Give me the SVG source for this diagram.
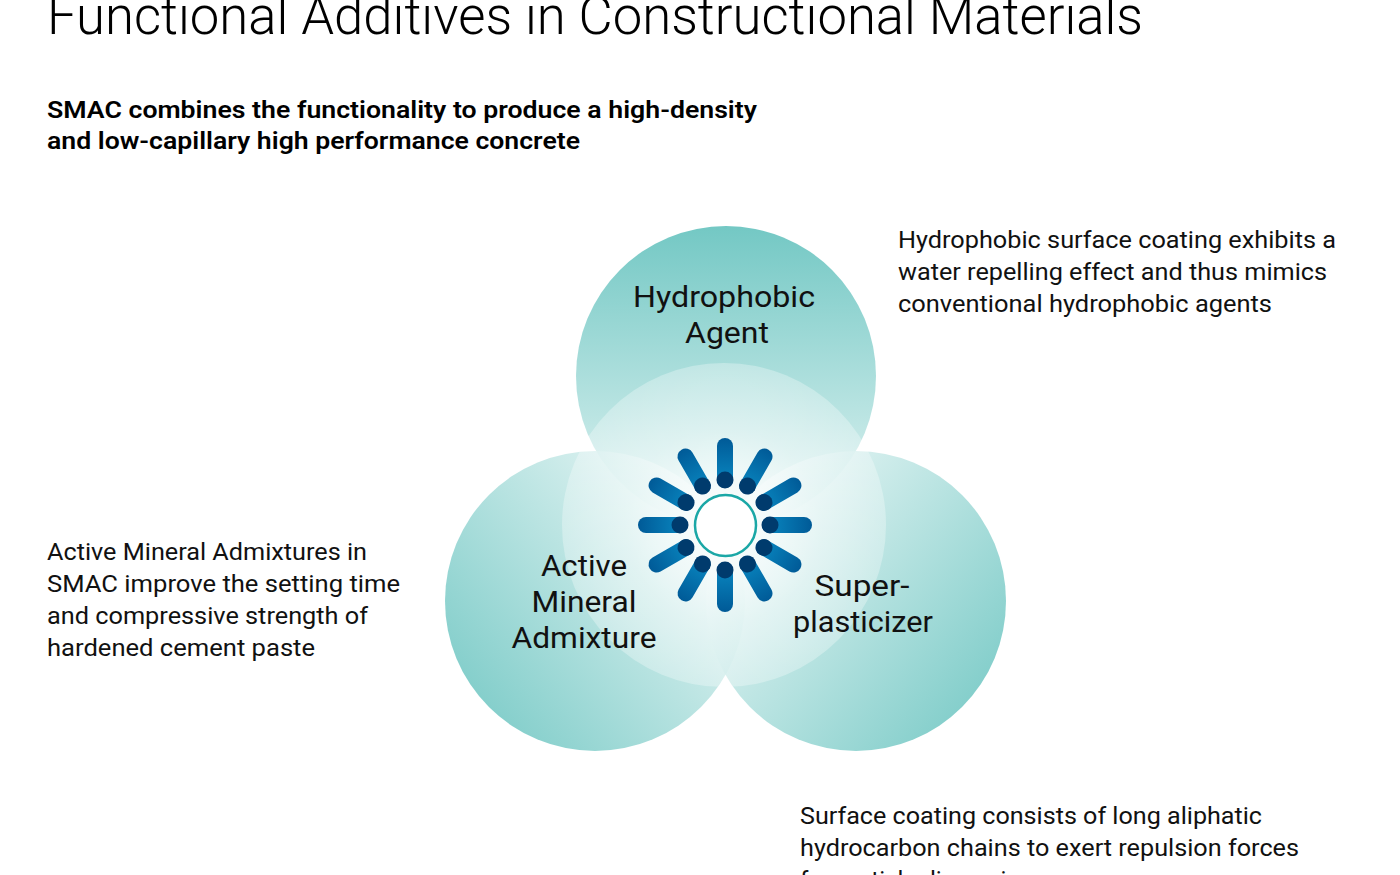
<svg xmlns="http://www.w3.org/2000/svg" xmlns:xlink="http://www.w3.org/1999/xlink" width="1400" height="875" viewBox="0 0 1400 875">
  <style>
    .title { font-family: Roboto, "Liberation Sans", sans-serif; font-weight: 300; font-size: 53px; fill: #000; }
    .sub { font-family: Roboto, "Liberation Sans", sans-serif; font-weight: 600; font-size: 24px; fill: #000; }
    .body { font-family: Roboto, "Liberation Sans", sans-serif; font-weight: 400; font-size: 24px; fill: #111; }
    .label { font-family: Roboto, "Liberation Sans", sans-serif; font-weight: 400; font-size: 30px; fill: #111; text-anchor: middle; }
  </style>
  <defs>
    <linearGradient id="gTop" x1="0" y1="0" x2="0" y2="1">
      <stop offset="0" stop-color="#6CC5C1"/>
      <stop offset="1" stop-color="#E2F4F3"/>
    </linearGradient>
    <linearGradient id="gLeft" x1="0.1" y1="0.85" x2="0.9" y2="0.2">
      <stop offset="0" stop-color="#6CC5C1"/>
      <stop offset="1" stop-color="#E5F5F4"/>
    </linearGradient>
    <linearGradient id="gRight" x1="0.9" y1="0.85" x2="0.1" y2="0.2">
      <stop offset="0" stop-color="#6CC5C1"/>
      <stop offset="1" stop-color="#E5F5F4"/>
    </linearGradient>
    <radialGradient id="gCenter" cx="0.5" cy="0.5" r="0.5">
      <stop offset="0" stop-color="#FFFFFF" stop-opacity="0.9"/>
      <stop offset="0.6" stop-color="#FFFFFF" stop-opacity="0.45"/>
      <stop offset="1" stop-color="#FFFFFF" stop-opacity="0.3"/>
    </radialGradient>
    <linearGradient id="gSpoke" x1="0" y1="0" x2="0" y2="1">
      <stop offset="0" stop-color="#005A97"/>
      <stop offset="1" stop-color="#0A8BC4"/>
    </linearGradient>
    <g id="spoke">
      <rect x="-8" y="-87" width="16" height="50" rx="8" fill="url(#gSpoke)"/>
      <circle cx="0" cy="-45" r="8.5" fill="#003B6D"/>
    </g>
  </defs>

  <rect width="1400" height="875" fill="#FFFFFF"/>

  <g id="title">
    <text class="title" x="47" y="34" textLength="1096" lengthAdjust="spacingAndGlyphs">Functional Additives in Constructional Materials</text>
  </g>
  <g id="subtitle">
    <text class="sub" x="47" y="118" textLength="710" lengthAdjust="spacingAndGlyphs">SMAC combines the functionality to produce a high-density</text>
    <text class="sub" x="47" y="149" textLength="533" lengthAdjust="spacingAndGlyphs">and low-capillary high performance concrete</text>
  </g>

  <g id="node-hydrophobic">
    <circle cx="726" cy="376" r="150" fill="url(#gTop)" opacity="0.95"/>
  </g>
  <g id="node-mineral">
    <circle cx="595" cy="601" r="150" fill="url(#gLeft)" opacity="0.85"/>
  </g>
  <g id="node-superplasticizer">
    <circle cx="856" cy="601" r="150" fill="url(#gRight)" opacity="0.85"/>
  </g>
  <g id="node-center-overlay">
    <circle cx="724" cy="525" r="162" fill="url(#gCenter)"/>
  </g>

  <g id="labels">
    <text class="label" x="724" y="307" textLength="182" lengthAdjust="spacingAndGlyphs">Hydrophobic</text>
    <text class="label" x="727" y="343" textLength="84" lengthAdjust="spacingAndGlyphs">Agent</text>
    <text class="label" x="584" y="576" textLength="86" lengthAdjust="spacingAndGlyphs">Active</text>
    <text class="label" x="584" y="612" textLength="105" lengthAdjust="spacingAndGlyphs">Mineral</text>
    <text class="label" x="584" y="648" textLength="145" lengthAdjust="spacingAndGlyphs">Admixture</text>
    <text class="label" x="862" y="596" textLength="95" lengthAdjust="spacingAndGlyphs">Super-</text>
    <text class="label" x="863" y="632" textLength="140" lengthAdjust="spacingAndGlyphs">plasticizer</text>
  </g>

  <g id="molecule">
    <use xlink:href="#spoke" transform="translate(725 525) rotate(0)"/>
    <use xlink:href="#spoke" transform="translate(725 525) rotate(30)"/>
    <use xlink:href="#spoke" transform="translate(725 525) rotate(60)"/>
    <use xlink:href="#spoke" transform="translate(725 525) rotate(90)"/>
    <use xlink:href="#spoke" transform="translate(725 525) rotate(120)"/>
    <use xlink:href="#spoke" transform="translate(725 525) rotate(150)"/>
    <use xlink:href="#spoke" transform="translate(725 525) rotate(180)"/>
    <use xlink:href="#spoke" transform="translate(725 525) rotate(210)"/>
    <use xlink:href="#spoke" transform="translate(725 525) rotate(240)"/>
    <use xlink:href="#spoke" transform="translate(725 525) rotate(270)"/>
    <use xlink:href="#spoke" transform="translate(725 525) rotate(300)"/>
    <use xlink:href="#spoke" transform="translate(725 525) rotate(330)"/>
    <circle cx="725.5" cy="525.5" r="30.5" fill="#FFFFFF" stroke="#1AA7A6" stroke-width="2.5"/>
  </g>

  <g id="connectors"></g>

  <g id="desc-hydrophobic">
    <text class="body" x="898" y="248" textLength="438" lengthAdjust="spacingAndGlyphs">Hydrophobic surface coating exhibits a</text>
    <text class="body" x="898" y="280" textLength="429" lengthAdjust="spacingAndGlyphs">water repelling effect and thus mimics</text>
    <text class="body" x="898" y="312" textLength="374" lengthAdjust="spacingAndGlyphs">conventional hydrophobic agents</text>
  </g>
  <g id="desc-mineral">
    <text class="body" x="47" y="560" textLength="320" lengthAdjust="spacingAndGlyphs">Active Mineral Admixtures in</text>
    <text class="body" x="47" y="592" textLength="353" lengthAdjust="spacingAndGlyphs">SMAC improve the setting time</text>
    <text class="body" x="47" y="624" textLength="321" lengthAdjust="spacingAndGlyphs">and compressive strength of</text>
    <text class="body" x="47" y="656" textLength="268" lengthAdjust="spacingAndGlyphs">hardened cement paste</text>
  </g>
  <g id="desc-superplasticizer">
    <text class="body" x="800" y="824" textLength="462" lengthAdjust="spacingAndGlyphs">Surface coating consists of long aliphatic</text>
    <text class="body" x="800" y="856" textLength="499" lengthAdjust="spacingAndGlyphs">hydrocarbon chains to exert repulsion forces</text>
    <text class="body" x="800" y="888">for particle dispersion</text>
  </g>
</svg>
